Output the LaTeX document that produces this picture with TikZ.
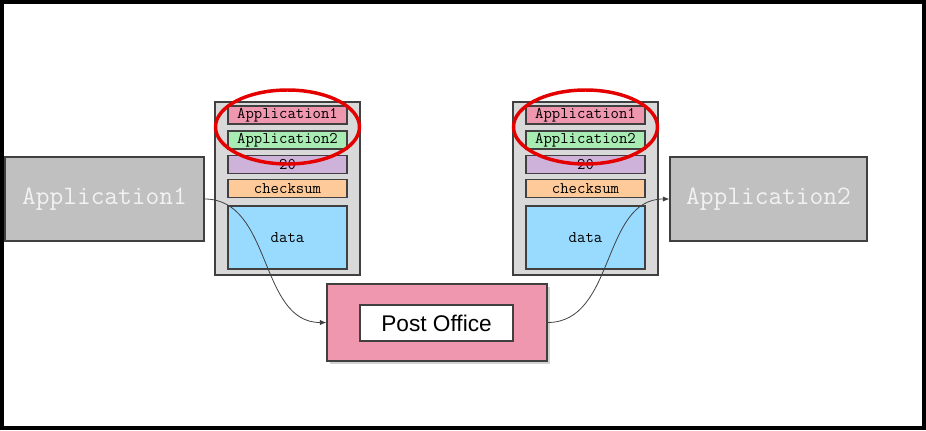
\documentclass[tikz,border=0pt]{standalone}
\usepackage{fontspec}
\setmainfont{Liberation Sans}
\usepackage{tikz}
\usetikzlibrary{arrows.meta,positioning,shadows}

\definecolor{pktgray}{HTML}{D9D9D9}
\definecolor{appgray}{HTML}{C0C0C0}
\definecolor{hdrpink}{HTML}{EE97AE}
\definecolor{hdrgreen}{HTML}{A8EBB3}
\definecolor{hdrpurple}{HTML}{CEB2DA}
\definecolor{hdrorange}{HTML}{FFCA99}
\definecolor{hdrblue}{HTML}{99DBFF}
\definecolor{linegray}{HTML}{404040}

\tikzset{
    field/.style={draw=linegray, line width=0.8pt, minimum width=89.25pt, minimum height=13.5pt,
        inner sep=0pt, font=\ttfamily\fontsize{12.2}{13}\selectfont},
    packet/.style={draw=linegray, line width=0.8pt, fill=pktgray, minimum width=108.75pt, minimum height=129.75pt},
    appbox/.style={draw=linegray, line width=0.8pt, fill=appgray, minimum height=63pt, inner sep=0pt,
        text=white!95!black, font=\ttfamily\fontsize{20}{22}\selectfont},
    route/.style={-{Latex[length=5pt,width=4pt]}, linegray, line width=0.6pt},
    mark ring/.style={red!90!black, line width=2.6pt}
}

\begin{document}
\begin{tikzpicture}[x=0.75pt, y=-0.75pt]
    \useasboundingbox (0,0) rectangle (926,430);
    % Frame
    \draw[line width=2.3pt] (2,2) rectangle (924,428);

    % Applications
    \node[appbox, minimum width=149.25pt] (app1) at (104.5,199) {Application1};
    \node[appbox, minimum width=147.75pt] (app2) at (768.5,199) {Application2};

    % Packets
    \foreach \pkt/\x in {pktA/287.5, pktB/585.5} {
        \node[packet] (\pkt) at (\x,188.5) {};
        \node[field, fill=hdrpink] (\pkt-src) at (\x,115) {Application1};
        \node[field, fill=hdrgreen] (\pkt-dst) at (\x,140) {Application2};
        \node[field, fill=hdrpurple] (\pkt-len) at (\x,164.5) {20};
        \node[field, fill=hdrorange] (\pkt-sum) at (\x,188.5) {checksum};
        \node[field, fill=hdrblue, minimum height=47.25pt] (\pkt-data) at (\x,237.5) {data};
        \draw[mark ring] (\x,127) ellipse [x radius=72, y radius=37];
    }

    % Post office
    \node[draw=linegray, line width=0.8pt, fill=hdrpink, minimum width=165pt, minimum height=57.75pt,
        drop shadow={opacity=0.35, shadow xshift=2pt, shadow yshift=-2pt}] (po) at (437,322.5) {};
    \node[draw=linegray, line width=0.8pt, fill=white, minimum width=114.75pt, minimum height=27pt,
        font=\fontsize{17}{20}\selectfont] (poname) at (436.5,323) {Post Office};

    % Routes
    \draw[route] (app1.east) to[out=0, in=180] (po.west);
    \draw[route] (po.east) to[out=0, in=180] (app2.west);
\end{tikzpicture}
\end{document}
